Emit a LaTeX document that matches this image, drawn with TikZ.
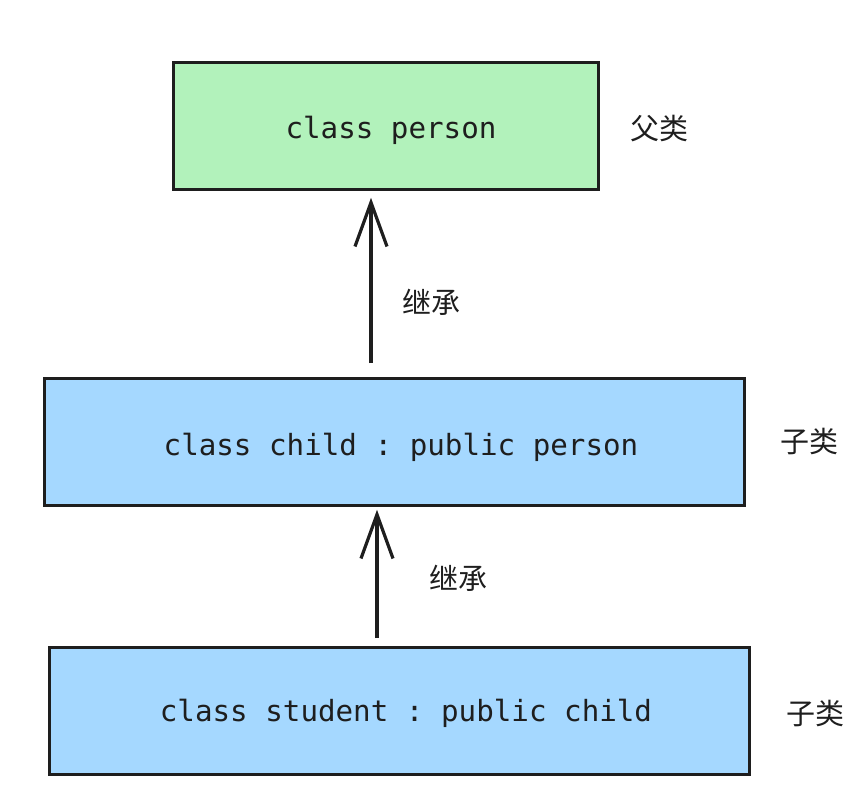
\documentclass[tikz,border=0pt]{standalone}
\usepackage{fontspec}
\setmonofont{DejaVu Sans Mono}
\newfontfamily\cjk{Noto Sans CJK SC}
\usetikzlibrary{arrows.meta}
\definecolor{stroke}{HTML}{1E1E1E}
\definecolor{greenfill}{HTML}{B2F2BB}
\definecolor{bluefill}{HTML}{A5D8FF}
\begin{document}
\begin{tikzpicture}[x=1pt,y=-1pt,
  box/.style={draw=stroke,line width=2.8pt,rectangle,inner sep=0pt,anchor=north west},
  code/.style={font=\fontsize{29.2}{32}\selectfont\ttfamily,text=stroke,inner sep=0pt},
  zh/.style={font=\fontsize{29}{32}\selectfont\cjk,text=stroke,inner sep=0pt},
  arr/.style={draw=stroke,line width=3.2pt,-{Straight Barb[length=44pt,width=32pt,line width=3.2pt]}}]
\useasboundingbox (0,0) rectangle (860,805);
\node[box,fill=greenfill,minimum width=425pt,minimum height=127pt] (person) at (172,61) {};
\node[box,fill=bluefill,minimum width=700pt,minimum height=127pt] (child) at (43,377) {};
\node[box,fill=bluefill,minimum width=700pt,minimum height=127pt] (student) at (48,646) {};
\node[code] (tperson) at (391,130) {class person};
\node[code] (tchild) at (401,447) {class child : public person};
\node[code] (tstudent) at (406,713) {class student : public child};
\node[zh] (lparent) at (659,129) {父类};
\node[zh] (lchild) at (809,441) {子类};
\node[zh] (lstudent) at (815,713) {子类};
\node[zh] (inh1) at (431,302) {继承};
\node[zh] (inh2) at (458,578) {继承};
\coordinate (c1) at (371,0);
\coordinate (c2) at (377,0);
\draw[arr] ([yshift=14pt]child.north -| c1) -- ([yshift=-7pt]person.south -| c1);
\draw[arr] ([yshift=8pt]student.north -| c2) -- ([yshift=-3pt]child.south -| c2);
\end{tikzpicture}
\end{document}
